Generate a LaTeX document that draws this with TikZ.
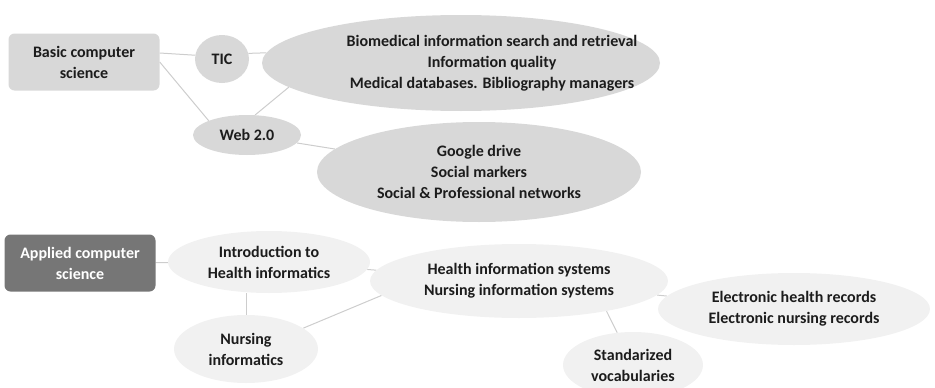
\documentclass[tikz,border=0pt]{standalone}
\usepackage{fontspec}
\setmainfont{Carlito}
\usetikzlibrary{positioning, shapes.geometric, backgrounds}
\definecolor{topicgray}{RGB}{216,216,216}
\definecolor{palegray}{RGB}{241,241,241}
\definecolor{darkbox}{RGB}{118,118,118}
\definecolor{linkgray}{RGB}{205,205,205}
\definecolor{inkgray}{RGB}{28,28,28}

\begin{document}
\begin{tikzpicture}[x=1pt, y=-1pt, font=\fontsize{16}{21}\selectfont\bfseries,
  area/.style={draw=none, rounded corners=6pt, align=center, inner sep=0pt,
               minimum width=151pt, minimum height=57pt},
  basic/.style={area, fill=topicgray, text=inkgray},
  applied/.style={area, fill=darkbox, text=white},
  topic/.style={ellipse, draw=none, fill=topicgray, text=inkgray, align=center, inner sep=0pt},
  sub/.style={ellipse, draw=none, fill=palegray, text=inkgray, align=center, inner sep=0pt},
  link/.style={draw=linkgray, line width=1pt}]
  \useasboundingbox (0,0) rectangle (935,388);
  \node[basic] (basic) at (84,62) {Basic computer\\ science};
  \node[topic, minimum width=54pt, minimum height=48pt] (tic) at (222,59) {TIC};
  \node[topic, minimum width=398pt, minimum height=96pt,
        label={[align=center, text=inkgray, xshift=31pt]center:Biomedical information search and retrieval\\
          Information quality\\ Medical databases. Bibliography managers}] (info) at (461,63) {};
  \node[topic, minimum width=108pt, minimum height=40pt] (web) at (247,135) {Web 2.0};
  \node[topic, minimum width=324pt, minimum height=100pt] (social) at (479,172) {%
    Google drive\\ Social markers\\ Social \& Professional networks};
  \node[applied] (applied) at (80,263) {Applied computer\\ science};
  \node[sub, minimum width=202pt, minimum height=62pt] (intro) at (269,262) {%
    Introduction to\\ Health informatics};
  \node[sub, minimum width=144pt, minimum height=68pt] (nursing) at (246,349) {%
    Nursing\\ informatics};
  \node[sub, minimum width=298pt, minimum height=74pt] (his) at (519,281) {%
    Health information systems\\ Nursing information systems};
  \node[sub, minimum width=272pt, minimum height=72pt] (ehr) at (794,309) {%
    Electronic health records\\ Electronic nursing records};
  \node[sub, minimum width=140pt, minimum height=66pt] (vocab) at (633,365) {%
    Standarized\\ vocabularies};
  \begin{scope}[on background layer]
    \draw[link] ([yshift=9pt]basic.east) -- (tic.172);
    \draw[link] (basic.east) -- (web.north west);
    \draw[link] (tic.12) -- (info.177);
    \draw[link] (web.68) -- (info.188);
    \draw[link] (web) -- (social);
    \draw[link] (applied) -- (intro);
    \draw[link] (nursing.north) -- (nursing.north |- intro.south);
    \draw[link] (intro) -- (his);
    \draw[link] (nursing.20) -- (his.186);
    \draw[link] (his) -- (ehr);
    \draw[link] (his.-19) -- (vocab.116);
  \end{scope}
\end{tikzpicture}
\end{document}
